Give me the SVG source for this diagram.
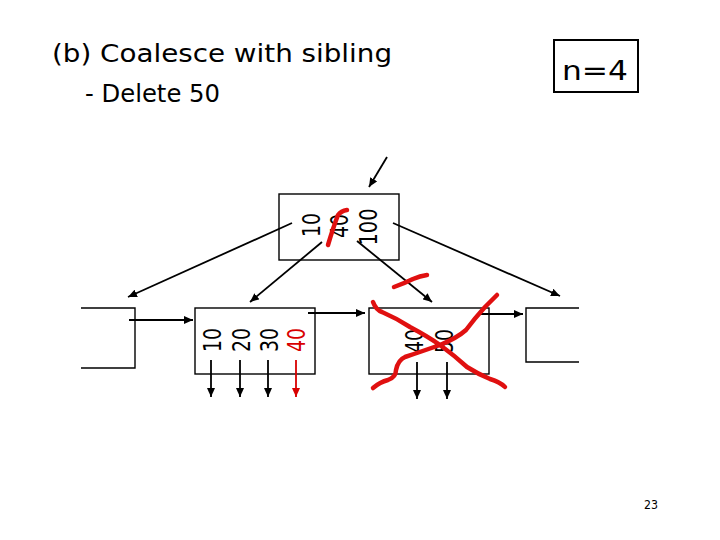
<svg xmlns="http://www.w3.org/2000/svg" width="720" height="540" viewBox="0 0 720 540">
<style>
.box{fill:none;stroke:#000;stroke-width:1.4}
.ln{fill:none;stroke:#000;stroke-width:1.8}
.lnr{fill:none;stroke:#d80000;stroke-width:1.8}
.t{font-family:"DejaVu Sans","Liberation Sans",sans-serif;fill:#000}
.k{font-family:"DejaVu Sans","Liberation Sans",sans-serif;font-size:24px;text-anchor:middle;fill:#000}
.red{fill:#d80000}
.mark{fill:none;stroke:#e01010;stroke-width:4.5;stroke-linecap:round;stroke-linejoin:round}
</style>
<defs>
<marker id="ah" markerUnits="userSpaceOnUse" markerWidth="10" markerHeight="8" refX="9" refY="4" orient="auto">
<path d="M0,0 L9,4 L0,8 Z" fill="#000"/>
</marker>
<marker id="ahr" markerUnits="userSpaceOnUse" markerWidth="10" markerHeight="8" refX="9" refY="4" orient="auto">
<path d="M0,0 L9,4 L0,8 Z" fill="#d80000"/>
</marker>
</defs>
<rect width="720" height="540" fill="#fff"/>

<g id="title">
<text class="t" x="52" y="62" font-size="25" textLength="340" lengthAdjust="spacingAndGlyphs">(b) Coalesce with sibling</text>
<text class="t" x="85" y="102" font-size="25" textLength="135" lengthAdjust="spacingAndGlyphs">- Delete 50</text>
</g>

<g id="nbox">
<rect x="554" y="40" width="84" height="52" fill="none" stroke="#000" stroke-width="2"/>
<text class="t" x="562" y="80" font-size="27" textLength="66" lengthAdjust="spacingAndGlyphs">n=4</text>
</g>

<g id="root">
<rect class="box" x="279" y="194" width="120" height="66"/>
<text class="k" transform="translate(320,225) rotate(-90)" textLength="24" lengthAdjust="spacingAndGlyphs">10</text>
<text class="k" transform="translate(348,226) rotate(-90)" textLength="24" lengthAdjust="spacingAndGlyphs">40</text>
<text class="k" transform="translate(377,227) rotate(-90)" textLength="37" lengthAdjust="spacingAndGlyphs">100</text>
</g>

<g id="leaf-far-left">
<path class="box" d="M81,308 H135 V368 H81"/>
</g>

<g id="leaf-left">
<rect class="box" x="195" y="308" width="120" height="66"/>
<text class="k" transform="translate(221,340) rotate(-90)" textLength="24" lengthAdjust="spacingAndGlyphs">10</text>
<text class="k" transform="translate(250,340) rotate(-90)" textLength="24" lengthAdjust="spacingAndGlyphs">20</text>
<text class="k" transform="translate(278,340) rotate(-90)" textLength="24" lengthAdjust="spacingAndGlyphs">30</text>
<text class="k red" transform="translate(305,340) rotate(-90)" textLength="24" lengthAdjust="spacingAndGlyphs">40</text>
</g>

<g id="leaf-middle">
<rect class="box" x="369" y="308" width="120" height="66"/>
<text class="k" transform="translate(423,341) rotate(-90)" textLength="24" lengthAdjust="spacingAndGlyphs">40</text>
<text class="k" transform="translate(453,341) rotate(-90)" textLength="24" lengthAdjust="spacingAndGlyphs">50</text>
</g>

<g id="leaf-right">
<path class="box" d="M579,308 H526 V362 H579"/>
</g>

<g id="connectors">
<line class="ln" x1="387" y1="157" x2="369" y2="187" marker-end="url(#ah)"/>
<line class="ln" x1="292" y1="223" x2="128" y2="297" marker-end="url(#ah)"/>
<line class="ln" x1="322" y1="242" x2="250" y2="302" marker-end="url(#ah)"/>
<line class="ln" x1="357" y1="241" x2="432" y2="302" marker-end="url(#ah)"/>
<line class="ln" x1="393" y1="223" x2="560" y2="296" marker-end="url(#ah)"/>
<line class="ln" x1="129" y1="320" x2="193" y2="320" marker-end="url(#ah)"/>
<line class="ln" x1="308" y1="313" x2="365" y2="313" marker-end="url(#ah)"/>
<line class="ln" x1="480" y1="314" x2="523" y2="314" marker-end="url(#ah)"/>
<line class="ln" x1="211" y1="360" x2="211" y2="397" marker-end="url(#ah)"/>
<line class="ln" x1="240" y1="360" x2="240" y2="397" marker-end="url(#ah)"/>
<line class="ln" x1="268" y1="360" x2="268" y2="397" marker-end="url(#ah)"/>
<line class="lnr" x1="296" y1="360" x2="296" y2="397" marker-end="url(#ahr)"/>
<line class="ln" x1="417" y1="362" x2="417" y2="399" marker-end="url(#ah)"/>
<line class="ln" x1="447" y1="362" x2="447" y2="399" marker-end="url(#ah)"/>
</g>

<g id="red-marks">
<path class="mark" d="M328,245 Q333,228 338,215 Q341,211 347,210"/>
<path class="mark" d="M394,287 Q405,283 413,279 Q420,276 427,275"/>
<path class="mark" d="M373,302 Q376,310 382,312 Q396,318 410,327 Q427,336 440,345 Q455,356 467,367 Q478,374 490,379 Q500,382 505,387"/>
<path class="mark" d="M373,388 Q380,382 388,380 Q396,377 396,370 Q398,360 405,357 Q420,352 440,345 Q457,338 466,330 Q475,318 485,307 Q492,300 497,295"/>
</g>

<g id="page">
<text class="t" x="644" y="509" font-size="13" textLength="14" lengthAdjust="spacingAndGlyphs">23</text>
</g>
</svg>
